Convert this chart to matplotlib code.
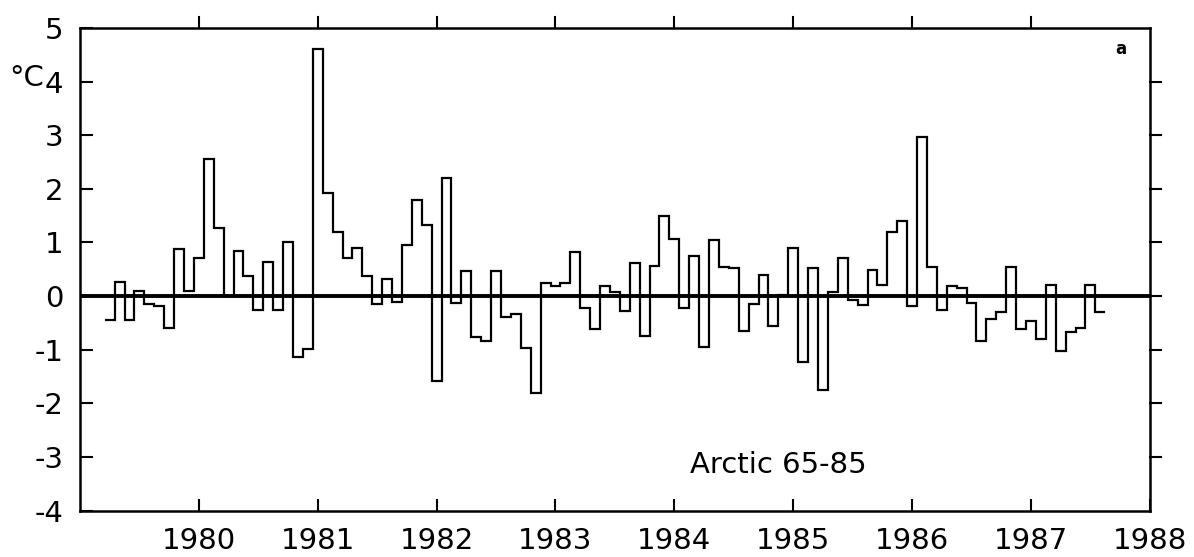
import matplotlib
matplotlib.use("Agg")
import matplotlib.pyplot as plt
import numpy as np

# Monthly temperature anomalies (deg C), Arctic 65-85, starting March 1979
start_year = 1979
start_month = 3
anomaly = [
    -0.45, 0.27, -0.45, 0.10, -0.15, -0.18, -0.60, 0.88, 0.10, 0.72,      # Mar-Dec 1979
    2.55, 1.27, 0.00, 0.85, 0.38, -0.26, 0.63, -0.26, 1.00, -1.13, -0.99, 4.60,  # 1980
    1.93, 1.20, 0.72, 0.90, 0.38, -0.15, 0.32, -0.10, 0.95, 1.80, 1.33, -1.58,  # 1981
    2.20, -0.12, 0.46, -0.76, -0.83, 0.47, -0.39, -0.33, -0.97, -1.80, 0.25, 0.19,  # 1982
    0.25, 0.83, -0.22, -0.62, 0.18, 0.07, -0.27, 0.62, -0.75, 0.56, 1.50, 1.06,  # 1983
    -0.23, 0.75, -0.95, 1.04, 0.55, 0.52, -0.65, -0.15, 0.40, -0.55, 0.03, 0.90,  # 1984
    -1.23, 0.52, -1.75, 0.08, 0.72, -0.08, -0.17, 0.49, 0.20, 1.20, 1.40, -0.19,  # 1985
    2.97, 0.55, -0.26, 0.18, 0.15, -0.12, -0.83, -0.43, -0.29, 0.55, -0.61, -0.47,  # 1986
    -0.79, 0.21, -1.03, -0.66, -0.59, 0.20, -0.29,                          # Jan-Jul 1987
]
year_ticks = [1980, 1981, 1982, 1983, 1984, 1985, 1986, 1987, 1988]
temp_ticks = [-4, -3, -2, -1, 0, 1, 2, 3, 4, 5]
label = "Arctic 65-85"

vals = np.array(anomaly)
first = start_year + (start_month - 1 + 0.5) / 12.0
edges = first + np.arange(len(vals) + 1) / 12.0

fig = plt.figure(figsize=(11.94, 5.57), dpi=100)
ax = fig.add_axes([0.067, 0.083, 0.896, 0.867])

ax.stairs(vals, edges, baseline=None, color="black", linewidth=1.6)
ax.axhline(0, color="black", linewidth=2.8, zorder=3)

ax.set_xlim(1979, 1988)
ax.set_ylim(-4, 5)

ax.set_xticks(year_ticks)
ax.set_xticklabels([str(y) for y in year_ticks], fontsize=21)
ax.set_yticks(temp_ticks)
ax.set_yticklabels([str(t) for t in temp_ticks], fontsize=21)

ax.tick_params(axis="x", which="both", bottom=True, top=False, direction="in",
               length=9, width=1.5, pad=12)
ax.tick_params(axis="y", which="both", left=True, right=False, direction="in",
               length=9, width=1.5, pad=12)

# outward ticks on top and right
for yt in temp_ticks[1:-1]:
    ax.plot([1988, 1988 + 0.09], [yt, yt], color="black", lw=1.5, clip_on=False)
for xt in year_ticks[:-1]:
    ax.plot([xt, xt], [5, 5 + 0.2], color="black", lw=1.5, clip_on=False)

for s in ax.spines.values():
    s.set_linewidth(1.8)

fig.text(0.008, 0.86, "°C", fontsize=21, ha="left", va="center")
ax.text(0.978, 0.975, "a", transform=ax.transAxes, fontsize=12,
        ha="right", va="top", fontweight="bold")
ax.text(0.57, 0.065, label, transform=ax.transAxes, fontsize=21,
        ha="left", va="bottom")

fig.savefig("out.png", dpi=100)
